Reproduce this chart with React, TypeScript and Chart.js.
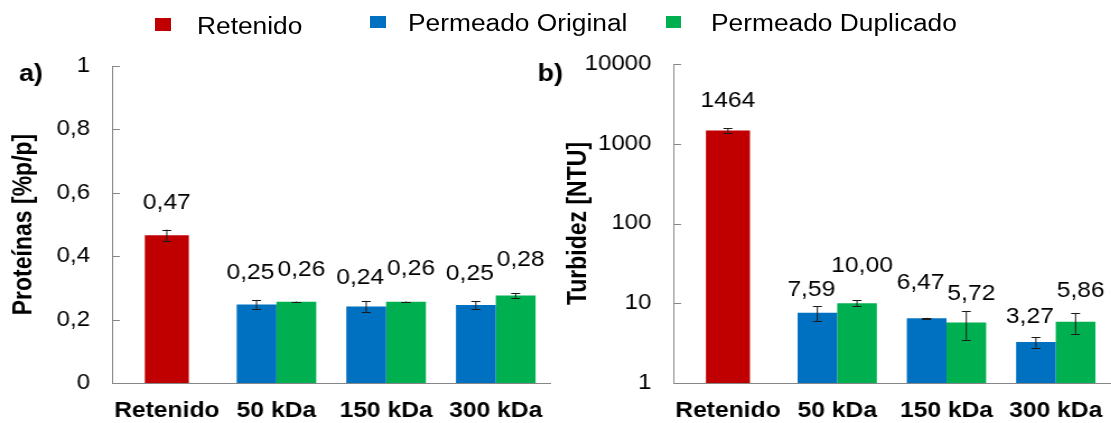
import React, { useEffect, useRef } from 'react';
import { Chart, registerables } from 'chart.js';

Chart.register(...registerables);

// ---------- data ----------
const categories = ['Retenido', '50 kDa', '150 kDa', '300 kDa'];
const seriesNames = ['Retenido', 'Permeado Original', 'Permeado Duplicado'];

const proteinRetenido = [0.466, null, null, null];
const proteinOriginal = [null, 0.248, 0.241, 0.246];
const proteinDuplicado = [null, 0.256, 0.256, 0.276];
const proteinRetenidoErr = [0.018, null, null, null];
const proteinOriginalErr = [null, 0.014, 0.018, 0.012];
const proteinDuplicadoErr = [null, 0.001, 0.001, 0.007];

const turbRetenido = [1464, null, null, null];
const turbOriginal = [null, 7.59, 6.47, 3.27];
const turbDuplicado = [null, 10.0, 5.72, 5.86];
const turbRetenidoErr = [90, null, null, null];
const turbOriginalErr = [null, 1.6, 0.1, 0.5];
const turbDuplicadoErr = [null, 0.85, 2.25, 1.7];

const proteinTicks = [0, 0.2, 0.4, 0.6, 0.8, 1];
const turbTicks = [1, 10, 100, 1000, 10000];

// ---------- style ----------
const S = 1.12; // horizontal stretch of the original picture
const FONT = '"Liberation Sans", Arial, Helvetica, sans-serif';
const RED = '#C00000';
const BLUE = '#0070C0';
const GREEN = '#00B050';
const AXIS = '#868686';
const seriesColors = [RED, BLUE, GREEN];
const labelNudges = [0, -5.4, 4.5];
// distance (px) from the bar top to the centre of each value label, per series
const proteinLabelLift = [
  [32, 0, 0, 0],
  [0, 31, 28.5, 31.5],
  [0, 32, 32.5, 35.5],
];
const turbLabelLift = [
  [30, 0, 0, 0],
  [0, 22.5, 35, 25],
  [0, 37.5, 28.5, 31],
];

const fmtValue = (v: number) => (v >= 100 ? v.toFixed(0) : v.toFixed(2)).replace('.', ',');

const extrasPlugin = {
  id: 'extras',
  afterDatasetsDraw(chart: any, _args: any, opts: any) {
    const ctx = chart.ctx;
    const yScale = chart.scales.y;
    ctx.save();
    chart.data.datasets.forEach((ds: any, i: number) => {
      const meta = chart.getDatasetMeta(i);
      meta.data.forEach((el: any, j: number) => {
        const v = ds.data[j];
        if (v == null) return;
        const e = ds.errors ? ds.errors[j] : null;
        if (e != null) {
          const yT = yScale.getPixelForValue(v + e);
          const yB = yScale.getPixelForValue(v - e);
          ctx.strokeStyle = '#1a1a1a';
          ctx.lineWidth = 1;
          ctx.beginPath();
          ctx.moveTo(el.x, yT);
          ctx.lineTo(el.x, yB);
          ctx.moveTo(el.x - 4, Math.round(yT) + 0.5);
          ctx.lineTo(el.x + 4, Math.round(yT) + 0.5);
          ctx.moveTo(el.x - 4, Math.round(yB) + 0.5);
          ctx.lineTo(el.x + 4, Math.round(yB) + 0.5);
          ctx.stroke();
        }
        const lift = opts && opts.lift ? opts.lift[i][j] : 31;
        ctx.fillStyle = '#000';
        ctx.font = `normal 22px ${FONT}`;
        ctx.textAlign = 'center';
        ctx.textBaseline = 'middle';
        ctx.fillText(fmtValue(v), el.x + (ds.labelNudge || 0), el.y - lift);
      });
    });
    ctx.restore();
  },
  afterDraw(chart: any, _args: any, opts: any) {
    const ctx = chart.ctx;
    const yScale = chart.scales.y;
    const left = chart.chartArea.left;
    ctx.save();
    ctx.strokeStyle = AXIS;
    ctx.lineWidth = 1;
    ctx.beginPath();
    yScale.ticks.forEach((t: any) => {
      const y = Math.round(yScale.getPixelForValue(t.value)) + 0.5;
      ctx.moveTo(left, y);
      ctx.lineTo(left + 7, y);
    });
    ctx.stroke();
    if (opts && opts.panel) {
      ctx.fillStyle = '#000';
      ctx.font = `bold 24px ${FONT}`;
      ctx.textAlign = 'left';
      ctx.textBaseline = 'alphabetic';
      ctx.fillText(opts.panel, opts.panelX, opts.panelY);
    }
    ctx.restore();
  },
};

function buildConfig(p: any) {
  const datasets = [p.ret, p.orig, p.dup].map((d: number[], i: number) => ({
    label: seriesNames[i],
    data: d,
    errors: p.errs[i],
    backgroundColor: seriesColors[i],
    borderWidth: 0,
    labelNudge: labelNudges[i],
    categoryPercentage: 0.7256,
    barPercentage: 1,
    skipNull: true,
    ...(i === 0 ? { maxBarThickness: 39.3 } : {}),
  }));
  return {
    type: 'bar',
    data: { labels: categories, datasets },
    plugins: [extrasPlugin],
    options: {
      animation: false,
      responsive: false,
      devicePixelRatio: 1,
      layout: { padding: { top: p.top, left: 0, right: p.right, bottom: 0 } },
      plugins: {
        legend: { display: false },
        tooltip: { enabled: false },
        extras: { panel: p.panel, panelX: p.panelX, panelY: p.panelY, lift: p.lift },
      },
      scales: {
        x: {
          grid: { display: false, drawTicks: false, tickLength: 0 },
          border: { display: true, color: AXIS, width: 1 },
          ticks: {
            color: '#000',
            font: { family: FONT, size: 22, weight: 'bold' },
            padding: 15,
            maxRotation: 0,
            autoSkip: false,
          },
          afterFit: (s: any) => {
            s.height = 40;
          },
        },
        y: {
          type: p.yType,
          min: p.min,
          max: p.max,
          afterBuildTicks: (s: any) => {
            s.ticks = p.ticks.map((v: number) => ({ value: v }));
          },
          grid: { display: false, drawTicks: false, tickLength: 0 },
          border: { display: true, color: AXIS, width: 1 },
          ticks: {
            color: '#000',
            font: { family: FONT, size: 21.5 },
            padding: 19.5,
            callback: (v: number) => String(v).replace('.', ','),
          },
          title: {
            display: true,
            text: p.title,
            color: '#000',
            font: { family: FONT, size: 23, weight: 'bold' },
            padding: { top: p.titlePad, bottom: 0 },
          },
          afterFit: (s: any) => {
            s.width = p.yWidth;
          },
        },
      },
    },
  };
}

const legendLayout = [
  { box: [155, 18.3], text: [197, 14.6] },
  { box: [370, 16], text: [408, 12.1] },
  { box: [665.5, 16], text: [711, 12.1] },
];

export default function App() {
  const leftRef = useRef<HTMLCanvasElement>(null);
  const rightRef = useRef<HTMLCanvasElement>(null);

  useEffect(() => {
    const c1 = new Chart(
      leftRef.current as HTMLCanvasElement,
      buildConfig({
        ret: proteinRetenido,
        orig: proteinOriginal,
        dup: proteinDuplicado,
        errs: [proteinRetenidoErr, proteinOriginalErr, proteinDuplicadoErr],
        lift: proteinLabelLift,
        yType: 'linear',
        min: 0,
        max: 1,
        ticks: proteinTicks,
        title: 'Proteínas [%p/p]',
        titlePad: 7.8,
        yWidth: 100,
        top: 66,
        right: 6.25,
        panel: 'a)',
        panelX: 17,
        panelY: 81,
      }) as any
    );
    const c2 = new Chart(
      rightRef.current as HTMLCanvasElement,
      buildConfig({
        ret: turbRetenido,
        orig: turbOriginal,
        dup: turbDuplicado,
        errs: [turbRetenidoErr, turbOriginalErr, turbDuplicadoErr],
        lift: turbLabelLift,
        yType: 'logarithmic',
        min: 1,
        max: 10000,
        ticks: turbTicks,
        title: 'Turbidez [NTU]',
        titlePad: 30.3,
        yWidth: 128,
        top: 64,
        right: 6.5,
        panel: 'b)',
        panelX: 6.8,
        panelY: 80.5,
      }) as any
    );
    return () => {
      c1.destroy();
      c2.destroy();
    };
  }, []);

  return (
    <div
      style={{
        position: 'absolute',
        left: 0,
        top: 0,
        width: 1111,
        height: 423,
        overflow: 'hidden',
        background: '#fff',
        fontFamily: FONT,
      }}
    >
      <canvas
        ref={leftRef}
        width={500}
        height={423}
        style={{ position: 'absolute', left: 0, top: 0, width: `${500 * S}px`, height: '423px' }}
      />
      <canvas
        ref={rightRef}
        width={527}
        height={423}
        style={{ position: 'absolute', left: 530, top: 0, width: `${527 * S}px`, height: '423px' }}
      />
      {seriesNames.map((name, i) => (
        <React.Fragment key={name}>
          <div
            style={{
              position: 'absolute',
              left: legendLayout[i].box[0],
              top: legendLayout[i].box[1],
              width: 15.5,
              height: 12.3,
              background: seriesColors[i],
            }}
          />
          <div
            style={{
              position: 'absolute',
              left: legendLayout[i].text[0],
              top: legendLayout[i].text[1],
              fontSize: '23.5px',
              lineHeight: '23.5px',
              whiteSpace: 'nowrap',
              color: '#000',
              transform: `scaleX(${S})`,
              transformOrigin: 'left top',
            }}
          >
            {name}
          </div>
        </React.Fragment>
      ))}
    </div>
  );
}
